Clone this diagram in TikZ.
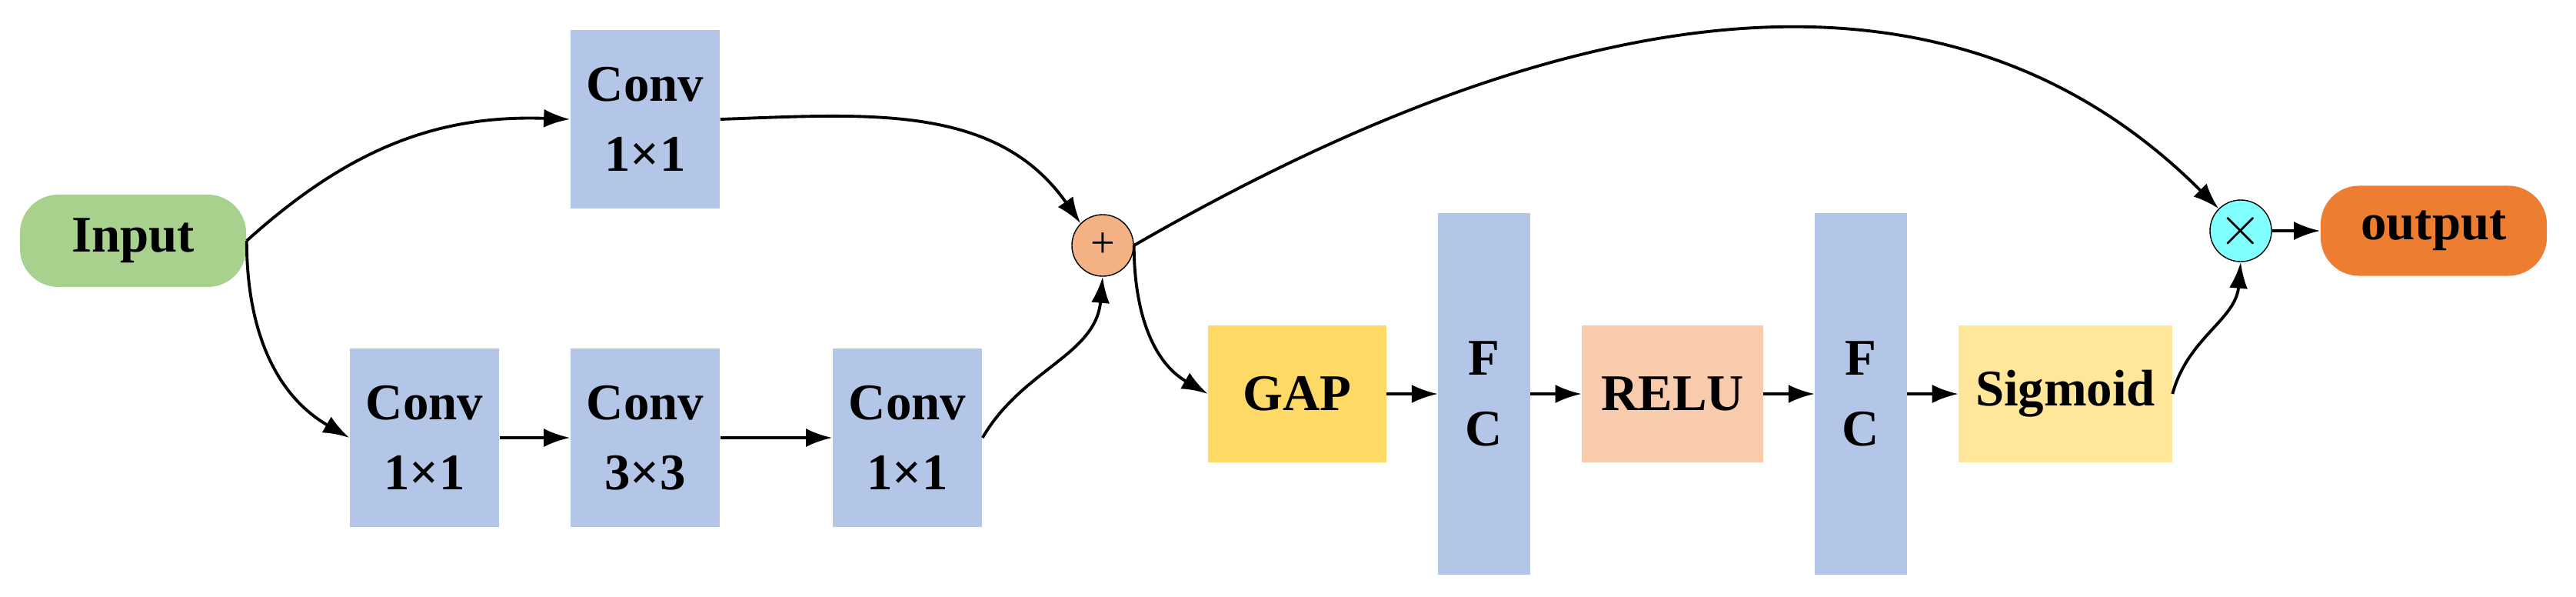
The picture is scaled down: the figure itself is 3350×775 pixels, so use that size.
\documentclass[tikz,border=0pt]{standalone}
\usepackage{fontspec}
\setmainfont{Liberation Serif}
\usetikzlibrary{arrows.meta}
\definecolor{cblue}{HTML}{B4C6E7}
\definecolor{cgreen}{HTML}{A9D18E}
\definecolor{cplus}{HTML}{F4B183}
\definecolor{cgap}{HTML}{FFD966}
\definecolor{crelu}{HTML}{F8CBAD}
\definecolor{csig}{HTML}{FFE699}
\definecolor{cx}{HTML}{80FFFF}
\definecolor{cout}{HTML}{ED7D31}
\begin{document}
\begin{tikzpicture}[x=0.01cm,y=-0.01cm,
  box/.style={draw=none,inner sep=0pt,align=center,font=\fontsize{19}{26}\selectfont\bfseries},
  conv/.style={box,fill=cblue,minimum width=1.94cm,minimum height=2.32cm},
  fc/.style={box,fill=cblue,minimum width=1.19cm,minimum height=4.69cm},
  term/.style={box,rounded corners=0.5cm,minimum height=1.2cm,minimum width=2.94cm},
  op/.style={circle,draw=black,line width=0.4pt,minimum size=0.8cm,inner sep=0pt},
  arr/.style={-{Latex[length=0.34cm,width=0.24cm]},line width=1.1pt}]
\useasboundingbox (0,0) rectangle (3350,775);
\node[term,fill=cgreen] (in) at (173,313) {Input};
\node[conv] (c0) at (839,155) {Conv\\1×1};
\node[conv] (c1) at (552,569) {Conv\\1×1};
\node[conv] (c2) at (839,569) {Conv\\3×3};
\node[conv] (c3) at (1180,569) {Conv\\1×1};
\node[op,fill=cplus] (plus) at (1434,319) {\fontsize{16}{16}\selectfont +};
\node[box,fill=cgap,minimum width=2.31cm,minimum height=1.78cm] (gap) at (1687,512) {GAP};
\node[fc] (fc1) at (1930,512) {F\\C};
\node[box,fill=crelu,minimum width=2.35cm,minimum height=1.77cm] (relu) at (2175,512) {RELU};
\node[fc] (fc2) at (2420,512) {F\\C};
\node[box,fill=csig,minimum width=2.77cm,minimum height=1.78cm] (sig) at (2686,512) {Sigmoid};
\node[op,fill=cx] (mul) at (2914,300) {\fontsize{22}{22}\selectfont $\times$};
\node[term,fill=cout,minimum height=1.17cm] (out) at (3165,300) {output};
\draw[arr] (in.east) to[out=42,in=178] (c0.west);
\draw[arr] (c0.east) to[out=2,in=125] (plus.north west);
\draw[arr] (in.east) to[out=-90,in=150] (c1.west);
\draw[arr] (c1) -- (c2);
\draw[arr] (c2) -- (c3);
\draw[arr] (c3.east) to[out=60,in=-95] (plus.south);
\draw[arr] (plus.east) to[out=-90,in=150] (gap.west);
\draw[arr] (plus.east) to[out=30,in=135] (mul.north west);
\draw[arr] (gap) -- (fc1);
\draw[arr] (fc1) -- (relu);
\draw[arr] (relu) -- (fc2);
\draw[arr] (fc2) -- (sig);
\draw[arr] (sig.east) to[out=75,in=-95] (mul.south);
\draw[arr] (mul) -- (out);
\end{tikzpicture}
\end{document}
